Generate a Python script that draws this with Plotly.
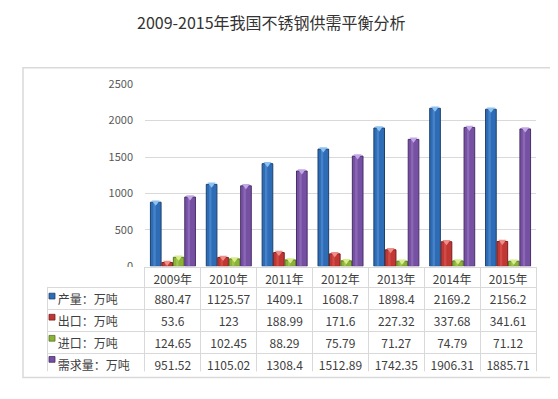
import plotly.graph_objects as go

# ---------------- data ----------------
years = ["2009年", "2010年", "2011年", "2012年", "2013年", "2014年", "2015年"]
series_names = ["产量：万吨", "出口：万吨", "进口：万吨", "需求量：万吨"]
production = [880.47, 1125.57, 1409.1, 1608.7, 1898.4, 2169.2, 2156.2]
exports = [53.6, 123, 188.99, 171.6, 227.32, 337.68, 341.61]
imports = [124.65, 102.45, 88.29, 75.79, 71.27, 74.79, 71.12]
demand = [951.52, 1105.02, 1308.4, 1512.89, 1742.35, 1906.31, 1885.71]
y_ticks = [0, 500, 1000, 1500, 2000, 2500]
title_text = "2009-2015年我国不锈钢供需平衡分析"

# ---------------- styles ----------------
OFF = 8                       # browser body margin
W, H = 558 - OFF, 399 - OFF
main_cols = ["#2E6CB5", "#C03733", "#8CB23A", "#7650A2"]
edge_cols = ["#1C416F", "#7A1F1E", "#587522", "#472F66"]
hi_cols = ["#5B95D8", "#DE5F5A", "#B3D45E", "#9C7BC6"]
cap_cols = ["#8CC2F2", "#F08E8A", "#D8EE8A", "#C3A7E6"]
values = [production, exports, imports, demand]

GAP = 0.18
slot = (1 - GAP) / 4
centers = [-0.5 + GAP / 2 + slot * (k + 0.5) for k in range(4)]
bw = slot * 0.93


def px_x(p):
    return (p - OFF) / W


def px_y(p):
    return 1 - (p - OFF) / H


idx = list(range(len(years)))
fig = go.Figure()

for k in range(4):
    xs = [i + centers[k] for i in idx]
    fig.add_trace(go.Bar(
        x=xs, y=values[k], name=series_names[k], width=bw,
        marker=dict(color=main_cols[k], line=dict(color=edge_cols[k], width=1)),
        showlegend=False, hoverinfo="y"))
    fig.add_trace(go.Bar(
        x=[x - bw * 0.12 for x in xs], y=values[k], name=series_names[k],
        width=bw * 0.22,
        marker=dict(color=hi_cols[k], line=dict(width=0), opacity=0.55),
        showlegend=False, hoverinfo="skip"))
    fig.add_trace(go.Scatter(
        x=xs, y=values[k], mode="markers",
        marker=dict(symbol="triangle-down", size=7, color=cap_cols[k],
                    line=dict(width=0)),
        cliponaxis=False, showlegend=False, hoverinfo="skip"))

# ---------------- table ----------------
label_cells = ["\u00a0" + s for s in series_names]
cell_cols = [label_cells] + [[str(values[k][i]) for k in range(4)] for i in idx]
line_header = ["rgba(0,0,0,0)"] + ["#d9d9d9"] * len(years)
tfont = dict(family="Noto Sans CJK SC", size=12, color="#404040")

fig.add_trace(go.Table(
    domain=dict(x=[px_x(47), px_x(536)], y=[px_y(378), px_y(269)]),
    columnwidth=[98] + [56] * len(years),
    header=dict(values=[""] + years, height=20,
                fill=dict(color="white"),
                line=dict(color=line_header, width=1),
                align="center", font=tfont),
    cells=dict(values=cell_cols, height=22,
               fill=dict(color="white"),
               line=dict(color="#d9d9d9", width=1),
               align=["left"] + ["center"] * len(years), font=tfont),
))

shapes = [dict(type="rect", xref="paper", yref="paper",
               x0=px_x(23), x1=px_x(551), y0=px_y(384), y1=px_y(61),
               line=dict(color="#d9d9d9", width=1.5), layer="below")]
row_centers = [299, 321, 343, 365]
for k in range(4):
    cy = row_centers[k]
    shapes.append(dict(type="rect", xref="paper", yref="paper",
                       x0=px_x(49), x1=px_x(55), y0=px_y(cy + 3), y1=px_y(cy - 3),
                       fillcolor=main_cols[k], line=dict(color=edge_cols[k], width=0.8),
                       layer="above"))

fig.update_layout(
    width=W, height=H,
    margin=dict(l=0, r=0, t=0, b=0),
    paper_bgcolor="white", plot_bgcolor="white",
    barmode="overlay",
    showlegend=False,
    xaxis=dict(domain=[px_x(145), px_x(536)], range=[-0.5, len(years) - 0.5],
               showticklabels=False, showgrid=False, zeroline=False, showline=False),
    yaxis=dict(domain=[px_y(268), px_y(78)], range=[0, 2500],
               tickvals=y_ticks, showgrid=True, gridcolor="#d9d9d9",
               gridwidth=1, zeroline=False, showline=False,
               ticks="", ticklabelstandoff=11,
               tickfont=dict(family="Noto Sans CJK SC", size=11, color="#595959")),
    shapes=shapes,
    annotations=[dict(text=title_text, xref="paper", yref="paper",
                      x=px_x(271), y=px_y(13), xanchor="center", yanchor="middle",
                      showarrow=False,
                      font=dict(family="Noto Sans CJK SC", size=16, color="#333333"))],
)

fig.write_html("out.html")
